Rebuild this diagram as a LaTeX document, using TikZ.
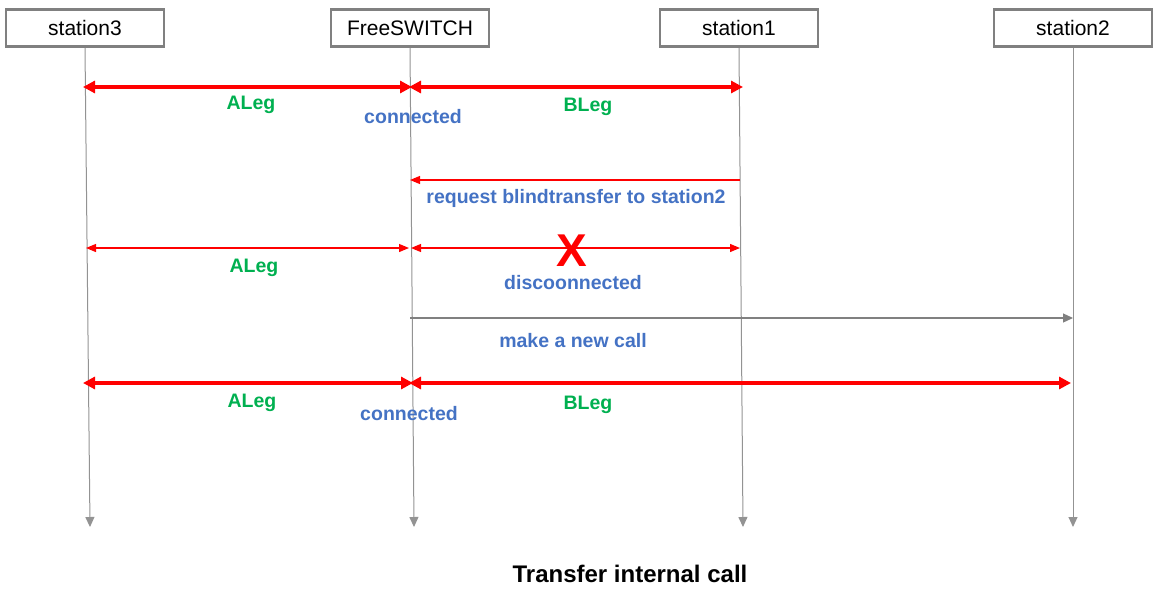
\documentclass[tikz,border=0pt]{standalone}
\usepackage{fontspec}
\setmainfont{Liberation Sans}
\usetikzlibrary{arrows.meta}
\definecolor{cgreen}{HTML}{00B050}
\definecolor{cblue}{HTML}{4472C4}
\definecolor{cred}{HTML}{FF0000}
\definecolor{cgray}{HTML}{808080}
\tikzset{
  actor/.style={draw=cgray,line width=2.6pt,fill=white,minimum width=158pt,minimum height=37pt,inner sep=0pt,font=\fontsize{21}{24}\selectfont},
  life/.style={draw=cgray!85,line width=1pt,-{Triangle[length=10pt,width=9pt]}},
  thickmsg/.style={draw=cred,line width=4pt,{Triangle[length=12pt,width=12pt]}-{Triangle[length=12pt,width=12pt]},shorten <=-3pt,shorten >=-3pt},
  thinboth/.style={draw=cred,line width=1.2pt,{Triangle[length=10pt,width=8pt]}-{Triangle[length=10pt,width=8pt]}},
  thinmsg/.style={draw=cred,line width=1.2pt,-{Triangle[length=10pt,width=8pt]}},
  graymsg/.style={draw=cgray,line width=1.2pt,-{Triangle[length=10pt,width=9pt]}},
  leg/.style={text=cgreen,font=\bfseries\fontsize{19.5}{22}\selectfont,inner sep=0pt},
  note/.style={text=cblue,font=\bfseries\fontsize{19.5}{22}\selectfont,inner sep=0pt},
}
\begin{document}
\begin{tikzpicture}[x=1pt,y=-1pt]
\useasboundingbox (0,0) rectangle (1156,602);
% actors
\node[actor] (s3) at (85,28) {station3};
\node[actor] (fs) at (410,28) {FreeSWITCH};
\node[actor] (s1) at (739,28) {station1};
\node[actor] (s2) at (1073,28) {station2};
% lifeline ends
\coordinate (s3e) at (90,527);
\coordinate (fse) at (414,527);
\coordinate (s1e) at (743,527);
\coordinate (s2e) at (1073,527);
\draw[life] (s3.south) -- (s3e);
\draw[life] (fs.south) -- (fse);
\draw[life] (s1.south) -- (s1e);
\draw[life] (s2.south) -- (s2e);
% message points
\coordinate (a3) at (86,87);  \coordinate (afl) at (409,87); \coordinate (afr) at (412,87); \coordinate (a1) at (740,87);
\coordinate (b1) at (740,180); \coordinate (bf) at (410,180);
\coordinate (c3) at (86,248); \coordinate (cfl) at (409,248); \coordinate (cfr) at (411,248); \coordinate (c1) at (740,248);
\coordinate (df) at (410,318); \coordinate (d2) at (1073,318);
\coordinate (e3) at (86,383); \coordinate (efl) at (410,383); \coordinate (efr) at (412,383); \coordinate (e2) at (1068,383);
% row 1
\draw[thickmsg] (a3) -- (afl);
\draw[thickmsg] (afr) -- (a1);
\node[leg] (l1) at (251,105) {ALeg};
\node[note] (n1) at (413,117) {connected};
\node[leg] (l2) at (588,107) {BLeg};
% row 2
\draw[thinmsg] (b1) -- (bf);
\node[note] (n2) at (576,198) {request blindtransfer to station2};
% row 3
\draw[thinboth] (c3) -- (cfl);
\draw[thinboth] (cfr) -- (c1);
\node[text=cred,font=\bfseries\fontsize{46}{50}\selectfont,inner sep=0pt] (x) at (572,251) {X};
\node[leg] (l3) at (254,268) {ALeg};
\node[note] (n3) at (573,283) {discoonnected};
% row 4
\draw[graymsg] (df) -- (d2);
\node[note] (n4) at (573,341) {make a new call};
% row 5
\draw[thickmsg] (e3) -- (efl);
\draw[thickmsg] (efr) -- (e2);
\node[leg] (l4) at (252,403) {ALeg};
\node[note] (n5) at (409,414) {connected};
\node[leg] (l5) at (588,405) {BLeg};
% title
\node[font=\bfseries\fontsize{24}{28}\selectfont,inner sep=0pt] (title) at (630,574) {Transfer internal call};
\end{tikzpicture}
\end{document}
